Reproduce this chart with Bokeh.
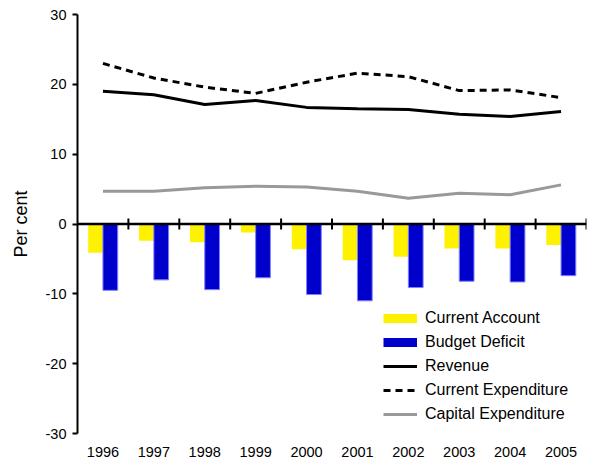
import numpy as np
from bokeh.plotting import figure
from bokeh.models import (ColumnDataSource, FactorRange, Range1d, Span, Legend,
                          LegendItem, FixedTicker, CustomJSTickFormatter)
from bokeh.transform import dodge
from bokeh.embed import file_html
from bokeh.resources import INLINE

years = ["1996", "1997", "1998", "1999", "2000", "2001", "2002", "2003", "2004", "2005"]
current_account = [-4.1, -2.4, -2.6, -1.2, -3.6, -5.2, -4.7, -3.5, -3.5, -3.0]
budget_deficit = [-9.5, -8.0, -9.4, -7.7, -10.1, -11.0, -9.1, -8.2, -8.3, -7.4]
revenue = [19.0, 18.5, 17.1, 17.7, 16.7, 16.5, 16.4, 15.7, 15.4, 16.1]
current_expenditure = [23.0, 20.9, 19.6, 18.7, 20.3, 21.6, 21.1, 19.1, 19.2, 18.1]
capital_expenditure = [4.7, 4.7, 5.2, 5.4, 5.3, 4.7, 3.7, 4.4, 4.2, 5.6]
y_ticks = [-30, -20, -10, 0, 10, 20, 30]

FONT = "Liberation Sans"

src = ColumnDataSource(dict(
    year=years, ca=current_account, bd=budget_deficit, rev=revenue,
    cexp=current_expenditure, kexp=capital_expenditure,
    zero=[0] * len(years),
))

x_range = FactorRange(factors=years, range_padding=0, factor_padding=0)
p = figure(x_range=x_range, y_range=Range1d(-30, 30), width=594, height=461,
           output_backend="svg", toolbar_location=None,
           min_border_left=77, min_border_right=8, min_border_top=14,
           min_border_bottom=28)
p.outline_line_color = None
p.xgrid.grid_line_color = None
p.ygrid.grid_line_color = None
p.background_fill_color = "white"

# bars
ca_r = p.vbar(x=dodge("year", -0.145, range=p.x_range), top="ca", bottom=0,
              width=0.29, source=src, fill_color="#FFF200", line_color=None)
bd_r = p.vbar(x=dodge("year", 0.145, range=p.x_range), top="bd", bottom=0,
              width=0.29, source=src, fill_color="#0000CC", line_color="#8080FF",
              line_width=1)

# zero axis line with crossing ticks at category boundaries
p.add_layout(Span(location=0, dimension="width", line_color="black", line_width=2.5))
p.scatter(x=dodge("year", 0.5, range=p.x_range), y="zero", source=src,
          marker="dash", angle=np.pi / 2, size=11, line_color="black", line_width=2)

# lines
rev_r = p.line(x="year", y="rev", source=src, line_color="black", line_width=3)
cexp_r = p.line(x="year", y="cexp", source=src, line_color="black", line_width=3,
                line_dash="7 5")
kexp_r = p.line(x="year", y="kexp", source=src, line_color="#999999", line_width=3)

# legend swatches for bars (no visible data)
sw_src = ColumnDataSource(dict(x=[years[0]], y=np.array([np.nan])))
ca_sw = p.line(x="x", y="y", source=sw_src, line_color="#FFF200", line_width=9)
bd_sw = p.line(x="x", y="y", source=sw_src, line_color="#0000CC", line_width=9)

legend = Legend(items=[
    LegendItem(label="Current Account", renderers=[ca_sw]),
    LegendItem(label="Budget Deficit", renderers=[bd_sw]),
    LegendItem(label="Revenue", renderers=[rev_r]),
    LegendItem(label="Current Expenditure", renderers=[cexp_r]),
    LegendItem(label="Capital Expenditure", renderers=[kexp_r]),
], location=(306, 9), padding=0, margin=0, spacing=4, glyph_width=34,
    glyph_height=20, label_height=20, label_standoff=8,
    border_line_color=None, background_fill_alpha=0,
    label_text_font=FONT, label_text_font_size="16px", label_text_color="black")
p.add_layout(legend, "center")

# y axis
ya = p.yaxis[0]
ya.ticker = FixedTicker(ticks=y_ticks)
ya.formatter = CustomJSTickFormatter(code="return tick.toFixed(0);")
ya.axis_line_width = 2
ya.axis_line_color = "black"
ya.major_tick_line_width = 2
ya.major_tick_line_color = "black"
ya.major_tick_out = 5
ya.major_tick_in = 0
ya.minor_tick_line_color = None
ya.major_label_standoff = 6
ya.major_label_text_font = FONT
ya.major_label_text_font_size = "14.5px"
ya.major_label_text_color = "black"
ya.axis_label = "Per cent"
ya.axis_label_text_font = FONT
ya.axis_label_text_font_size = "18px"
ya.axis_label_text_font_style = "normal"
ya.axis_label_text_color = "black"
ya.axis_label_standoff = 12

# x axis (labels only, at bottom)
xa = p.xaxis[0]
xa.axis_line_color = None
xa.major_tick_line_color = None
xa.major_tick_out = 0
xa.major_tick_in = 0
xa.minor_tick_line_color = None
xa.major_label_standoff = 13
xa.major_label_text_font = FONT
xa.major_label_text_font_size = "14.5px"
xa.major_label_text_color = "black"

open("out.html", "w").write(file_html(p, INLINE))
